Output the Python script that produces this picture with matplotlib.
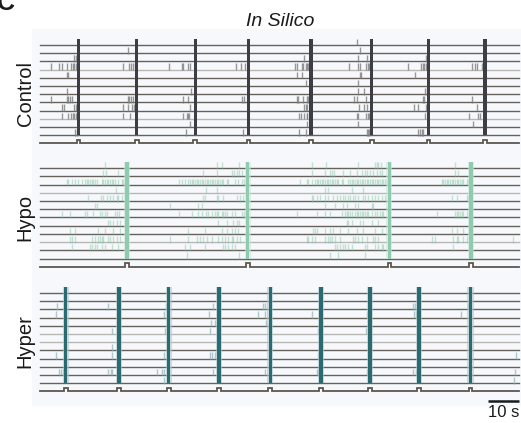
import numpy as np
import matplotlib
matplotlib.use('Agg')
import matplotlib.pyplot as plt
from matplotlib.patches import Rectangle

plt.rcParams['font.family'] = ['Liberation Sans', 'DejaVu Sans']

# tempos das rajadas (s)
control_bursts = [12.4, 31.2, 50.1, 67.3, 87.4, 107.0, 125.3, 143.5]
hypo_bursts = [28.0, 67.0, 112.7, 139.0]
hyper_bursts = [8.3, 25.5, 41.5, 57.8, 74.3, 90.6, 106.4, 122.3, 138.9]

# spikes por neurônio (12 linhas por painel), em segundos
control_spikes = [
    [102.4],
    [28.3, 103.2],
    [11.1, 11.5, 85.3, 102.5, 105.4, 124.5],
    [3.5, 6.1, 7.0, 8.6, 10.0, 10.5, 11.1, 11.5, 26.9, 28.8, 29.4, 29.9, 30.6, 41.7, 45.7, 46.2,
     47.8, 48.5, 63.3, 64.7, 66.1, 82.3, 82.8, 84.4, 84.9, 85.7, 86.2, 86.6, 87.0, 99.7, 102.5,
     103.3, 105.1, 105.7, 106.2, 118.8, 122.8, 123.7, 124.0, 124.4, 124.7, 139.5, 140.3, 141.1, 142.5],
    [8.6, 9.1, 83.0, 84.4, 103.2, 103.5, 121.0],
    [85.8, 102.5],
    [8.6, 48.7, 102.5, 104.5, 124.2, 124.7],
    [3.5, 8.6, 9.1, 9.7, 10.4, 28.3, 28.8, 29.4, 29.9, 46.2, 47.8, 65.3, 65.9, 82.8, 83.3, 84.9,
     86.0, 86.6, 87.0, 101.3, 102.4, 105.1, 123.4, 124.0, 139.5],
    [7.0, 7.6, 11.1, 11.5, 26.9, 28.5, 29.6, 30.2, 48.4, 85.3, 85.8, 86.2, 102.9, 104.4, 105.4,
     120.8, 121.8, 124.4, 140.9],
    [7.0, 9.1, 10.0, 10.5, 11.1, 11.5, 11.8, 26.9, 29.0, 46.0, 47.3, 47.8, 48.2, 83.5, 84.1, 85.3,
     86.0, 86.2, 102.4, 102.7, 105.1, 105.7, 106.1, 124.2, 138.5, 141.2, 141.9],
    [48.5, 86.0, 102.7, 139.6],
    [11.3, 11.8, 47.1, 65.6, 83.5, 85.8, 105.4, 105.7, 106.1, 122.0, 122.6, 123.1, 123.7],
]

hypo_spikes = [
    [21.0, 57.0, 58.6, 64.3, 87.9, 92.2, 102.5, 108.1, 108.6, 109.1, 110.0, 133.9],
    [20.4, 21.2, 25.3, 52.7, 57.0, 61.8, 62.7, 63.4, 64.2, 65.1, 87.9, 91.9, 93.5, 94.3, 94.9,
     97.8, 100.0, 102.1, 104.0, 104.8, 105.4, 106.5, 107.5, 108.6, 109.7, 110.2, 133.9, 134.7],
    [8.6, 9.1, 10.2, 11.3, 12.4, 13.4, 14.5, 15.1, 15.6, 16.1, 16.7, 17.2, 17.7, 18.3, 19.9, 20.4,
     21.0, 21.5, 22.0, 22.6, 23.1, 23.7, 24.2, 25.3, 26.3, 26.9, 44.8, 45.7, 46.8, 47.9, 48.4, 48.9,
     49.5, 50.0, 50.5, 51.1, 51.6, 52.2, 52.7, 53.2, 53.8, 54.3, 54.8, 55.4, 55.9, 56.5, 57.0, 57.5,
     58.1, 58.6, 59.1, 60.2, 60.8, 62.9, 64.0, 65.1, 65.9, 83.9, 86.0, 86.6, 87.6, 88.7, 89.3, 89.8,
     90.3, 90.9, 91.4, 91.9, 92.5, 93.0, 93.5, 94.1, 94.6, 95.2, 95.7, 96.2, 97.3, 97.8, 99.5, 100.0,
     100.5, 101.1, 101.6, 102.1, 102.7, 103.2, 103.8, 104.3, 104.8, 105.4, 105.9, 106.5, 107.0,
     107.5, 108.1, 108.6, 109.1, 109.7, 110.2, 110.8, 111.3, 111.8, 129.6, 130.1, 130.6, 131.2,
     131.7, 132.2, 132.8, 133.3, 133.9, 134.4, 134.9, 135.5, 136.0, 136.5, 137.6, 138.2],
    [24.5, 53.4, 57.0, 91.9, 93.0, 100.5, 104.3],
    [15.4, 19.7, 20.2, 21.5, 22.6, 23.7, 24.7, 25.3, 26.3, 52.5, 53.2, 57.0, 57.5, 58.9, 63.4, 64.5,
     65.6, 87.6, 88.2, 89.3, 90.3, 91.9, 93.0, 94.6, 95.7, 96.8, 97.8, 98.4, 99.5, 100.0, 101.1,
     101.6, 102.7, 104.3, 104.8, 105.9, 107.0, 108.1, 109.1, 110.2, 111.3, 132.8, 134.4, 137.6, 138.2],
    [17.7, 18.3, 41.9, 51.1, 52.2, 91.9, 95.2, 97.8, 98.9, 101.6, 102.7, 107.0, 107.5],
    [7.0, 9.7, 14.5, 15.1, 17.2, 19.4, 19.9, 21.0, 21.5, 24.2, 24.7, 25.5, 44.8, 48.9, 51.1, 52.2,
     53.4, 54.3, 55.4, 56.5, 57.0, 57.5, 58.6, 59.1, 59.7, 60.2, 61.8, 62.9, 65.1, 65.9, 82.8, 89.3,
     91.9, 93.5, 97.3, 98.4, 98.9, 99.5, 100.0, 100.5, 101.6, 102.1, 102.7, 103.2, 103.8, 104.3,
     104.8, 105.4, 105.9, 107.0, 108.1, 108.6, 109.7, 110.2, 110.8, 128.0, 133.9, 134.4, 134.9,
     135.5, 136.0, 136.5, 137.6],
    [21.8, 22.6, 23.7, 24.7, 25.8, 57.5, 60.2, 62.4, 63.4, 64.2, 98.9, 99.5, 100.5, 103.2, 104.3,
     107.0, 109.1],
    [9.7, 11.3, 18.8, 21.0, 23.7, 25.8, 47.9, 53.2, 58.6, 60.2, 61.8, 62.9, 64.0, 88.2, 88.7, 89.3,
     91.9, 93.5, 94.6, 96.8, 99.5, 102.1, 104.3, 108.1, 110.2, 132.8, 134.4, 136.5],
    [9.7, 10.2, 11.3, 16.7, 17.7, 18.8, 19.4, 19.9, 20.4, 22.0, 22.6, 23.7, 24.7, 25.8, 41.9, 47.9,
     50.5, 51.6, 52.7, 53.8, 55.4, 57.5, 58.6, 59.7, 60.8, 61.8, 62.4, 63.4, 64.5, 86.0, 86.6, 87.6,
     88.7, 91.9, 93.0, 93.5, 94.1, 95.2, 96.8, 101.1, 101.6, 102.7, 103.8, 105.4, 107.5, 108.1,
     109.1, 126.3, 127.4, 133.3, 134.4, 134.9, 136.5, 137.6, 152.7],
    [10.2, 16.1, 16.7, 17.7, 18.3, 19.9, 21.0, 23.1, 25.3, 46.8, 48.4, 53.2, 59.1, 59.7, 60.8, 61.8,
     62.9, 95.2, 95.7, 96.8, 97.8, 98.4, 99.5, 100.5, 104.8, 105.4, 108.1, 109.1, 110.2, 110.8, 133.3],
    [47.3, 64.2, 93.5, 96.2, 104.8],
]

hyper_spikes = [
    [],
    [],
    [5.6, 22.0, 24.7, 40.5, 55.9, 72.0, 72.6, 120.4, 121.0, 138.0],
    [5.1, 40.1, 54.5, 70.2, 72.6, 87.8, 105.6, 120.8, 121.2, 135.7],
    [55.2, 56.5, 72.8, 105.7],
    [23.1, 40.3, 54.8, 89.6, 105.1],
    [],
    [23.1, 57.0],
    [5.1, 23.3, 40.1, 54.8, 55.4, 56.5, 89.8, 153.4],
    [],
    [6.1, 6.8, 7.5, 21.8, 22.9, 23.3, 37.6, 39.5, 40.1, 55.9, 72.6, 89.2, 89.8, 105.4, 120.4,
     121.2, 153.2],
    [40.1, 153.0],
]

labels = ['Control', 'Hypo', 'Hyper']
t_end = 154.5

W, H = 521, 423
fig = plt.figure(figsize=(W / 100, H / 100), dpi=100)

# fundo claro
fig.patches.append(Rectangle((32 / W, 1 - 405 / H), (W - 32) / W, (405 - 29) / H,
                             transform=fig.transFigure, color='#f6f8fb', zorder=-10))

row_px = 8.2
tops = [45, 168.3, 293]
label_y = [94, 217, 341]

paineis = [
    (control_bursts, control_spikes, '#3d3d45', None, '#7f7f7f', 0.8, [3, 9]),
    (hypo_bursts, hypo_spikes, '#8fcbae', '#c9e6d7', '#7cc29f', 0.42, [3, 9]),
    (hyper_bursts, hyper_spikes, '#2c6a72', '#a9c9cc', '#8fb5ba', 0.7, [5, 6]),
]

axes = []
for k, (bursts, spikes, bar_c, halo_c, spk_c, spk_a, light_rows) in enumerate(paineis):
    top = tops[k] - row_px
    ax = fig.add_axes([32 / W, 1 - (top + 14 * row_px) / H, (W - 32) / W, 14 * row_px / H])
    ax.set_xlim(-8 / 3.1, (W - 40) / 3.1)
    ax.set_ylim(13, -1)
    ax.axis('off')
    axes.append(ax)

    n = len(spikes)
    for i in range(n):
        c = '#b9b7b4' if i in light_rows else '#67615b'
        ax.plot([0, t_end], [i, i], color=c, lw=1.0, zorder=1)

    for i, sp in enumerate(spikes):
        if sp:
            ax.vlines(sp, i - 0.75, i + 0.05, colors=spk_c, alpha=spk_a, lw=1.0, zorder=2)

    if halo_c:
        ax.bar(bursts, n - 1 + 0.75, bottom=-0.75, width=2.0, color=halo_c, alpha=0.6,
               align='center', zorder=3, linewidth=0)
    ax.bar(bursts, n - 1 + 0.75, bottom=-0.75, width=1.1, color=bar_c,
           align='center', zorder=4, linewidth=0)

    # traço do estímulo
    tt = [0]
    yy = [n]
    for b in bursts:
        tt += [b - 0.6, b - 0.6, b + 0.6, b + 0.6]
        yy += [n, n - 0.45, n - 0.45, n]
    tt.append(t_end)
    yy.append(n)
    ax.plot(tt, yy, color='#5e5750', lw=1.3, zorder=5, solid_joinstyle='miter')

    fig.text(25 / W, 1 - label_y[k] / H, labels[k], rotation=90, fontsize=14.5,
             ha='center', va='center', color='#1a1a1a')

# barra de escala
ax = axes[-1]
ax.plot([144.5, 154.5], [13.2, 13.2], color='#1a1a1a', lw=1.8, clip_on=False,
        solid_capstyle='butt')
ax.text(149.5, 14.6, '10 s', ha='center', va='center', fontsize=12, color='#1a1a1a',
        clip_on=False)

fig.text(280 / W, 1 - 21 / H, 'In Silico', style='italic', fontsize=14,
         ha='center', va='center', color='#1a1a1a')
fig.text(6 / W, 1 - 10 / H, 'C', fontsize=18, fontweight='bold', ha='center',
         va='baseline', color='#1a1a1a')

fig.savefig('out.png', dpi=100)
